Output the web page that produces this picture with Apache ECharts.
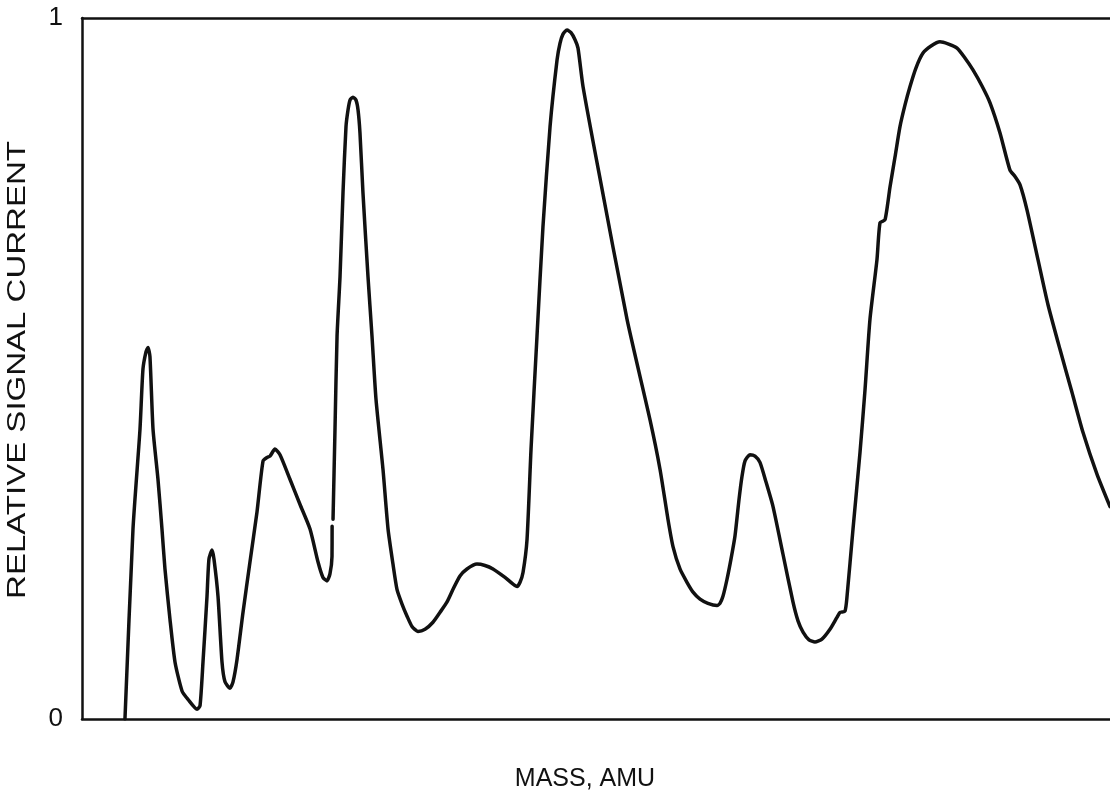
<!DOCTYPE html>
<html>
<head>
<meta charset="utf-8">
<title>Relative signal current vs mass</title>
<script src="https://cdn.jsdelivr.net/npm/echarts@6/dist/echarts.min.js"></script>
<style>
  html, body { margin: 0; padding: 0; background: #fff; }
  #chart { width: 1110px; height: 795px; }
</style>
</head>
<body>
<div id="chart"></div>
<script>
// Mass scan (arbitrary mass units across the sweep) and relative signal current.
// A null entry marks the short break in the trace.
const massValues = [
  4.18, 4.96, 5.64, 5.93, 6.23, 6.42, 6.61, 6.91, 7.39, 7.78, 8.07, 8.56, 9.05, 9.73, 10.31, 11.19,
  11.48, 11.77, 12.16, 12.35, 12.65, 12.84, 13.23, 13.62, 13.91, 14.40, 14.69, 15.08, 15.66, 16.34,
  17.02, 17.61, 18.00, 18.29, 18.77, 19.26, 20.23, 21.21, 22.18, 22.96, 23.44, 23.83, 24.12, 24.32,
  24.33, 24.37, 24.42, 24.61, 24.81, 25.10, 25.39, 25.68, 25.88, 26.07, 26.36, 26.65, 26.85, 27.04,
  27.33, 27.82, 28.21, 28.60, 29.28, 29.77, 30.25, 30.64, 31.13, 31.61, 32.10, 32.68, 33.37, 34.14,
  34.82, 35.51, 36.09, 36.77, 37.45, 38.42, 39.20, 39.98, 41.15, 42.32, 42.61, 42.90, 43.29, 43.68,
  44.26, 44.84, 45.53, 46.21, 46.50, 46.79, 47.18, 47.57, 47.96, 48.25, 48.74, 50.29, 53.02, 55.25,
  56.23, 57.00, 57.49, 58.17, 58.85, 59.44, 60.12, 60.89, 61.77, 62.06, 62.35, 62.74, 63.13, 63.52,
  63.91, 64.20, 64.49, 64.98, 65.47, 65.95, 66.54, 67.22, 68.19, 69.16, 69.65, 70.14, 70.72, 71.30,
  71.98, 72.76, 73.44, 73.74, 74.22, 74.42, 75.00, 75.68, 76.17, 76.65, 77.33, 77.63, 78.11, 78.60,
  79.09, 79.57, 80.06, 80.54, 81.13, 81.81, 82.59, 83.46, 84.24, 85.12, 85.89, 86.67, 87.55, 88.33,
  89.30, 90.27, 90.76, 91.25, 91.93, 93.00, 93.97, 95.14, 96.30, 97.37, 98.74, 100.00
];
const signalValues = [
  0.000, 0.271, 0.413, 0.499, 0.524, 0.530, 0.517, 0.413, 0.342, 0.271, 0.214, 0.142, 0.081, 0.040, 0.028, 0.014,
  0.019, 0.081, 0.175, 0.228, 0.241, 0.228, 0.175, 0.081, 0.053, 0.044, 0.053, 0.085, 0.152, 0.224,
  0.295, 0.368, 0.373, 0.375, 0.385, 0.377, 0.342, 0.306, 0.271, 0.224, 0.202, 0.197, 0.207, 0.232,
  0.275, null, 0.285, 0.413, 0.546, 0.631, 0.751, 0.845, 0.869, 0.883, 0.887, 0.883, 0.869, 0.836,
  0.751, 0.631, 0.546, 0.456, 0.356, 0.271, 0.221, 0.185, 0.164, 0.147, 0.132, 0.125, 0.128, 0.138,
  0.152, 0.167, 0.185, 0.204, 0.214, 0.221, 0.219, 0.214, 0.202, 0.189, 0.195, 0.209, 0.256, 0.385,
  0.546, 0.702, 0.845, 0.940, 0.964, 0.977, 0.983, 0.979, 0.969, 0.957, 0.902, 0.779, 0.570, 0.427,
  0.356, 0.285, 0.246, 0.214, 0.195, 0.181, 0.171, 0.165, 0.162, 0.165, 0.175, 0.199, 0.228, 0.261,
  0.313, 0.346, 0.368, 0.377, 0.375, 0.366, 0.338, 0.303, 0.235, 0.167, 0.140, 0.124, 0.113, 0.110,
  0.114, 0.128, 0.145, 0.152, 0.154, 0.175, 0.271, 0.380, 0.470, 0.570, 0.655, 0.708, 0.712, 0.759,
  0.802, 0.845, 0.876, 0.902, 0.929, 0.950, 0.960, 0.966, 0.963, 0.957, 0.943, 0.926, 0.903, 0.879,
  0.836, 0.783, 0.774, 0.762, 0.726, 0.655, 0.591, 0.527, 0.466, 0.409, 0.349, 0.303
];
const yTickLabels = ['0', '1'];
const xTitle = 'MASS, AMU';
const yTitle = 'RELATIVE SIGNAL CURRENT';

const FONT = '"Liberation Sans", Arial, Helvetica, sans-serif';
const INK = '#111';

const traceData = massValues.map((m, i) =>
  [m, signalValues[i] === null ? '-' : signalValues[i]]);

const chart = echarts.init(document.getElementById('chart'), null, { renderer: 'canvas' });

const frameLine = () => ({ show: true, onZero: false, lineStyle: { color: INK, width: 2.5 } });

chart.setOption({
  animation: false,
  backgroundColor: '#fff',
  grid: { left: 82, right: 0, top: 18, bottom: 76, containLabel: false, outerBoundsMode: 'none' },
  xAxis: [
    {
      type: 'value', min: 0, max: 100, position: 'bottom',
      axisLine: frameLine(),
      axisTick: { show: false }, axisLabel: { show: false }, splitLine: { show: false },
      name: xTitle, nameLocation: 'middle', nameGap: 48,
      nameTextStyle: { fontFamily: FONT, fontSize: 25, color: INK, padding: [0, 22, 0, 0] }
    },
    {
      type: 'value', min: 0, max: 100, position: 'top',
      axisLine: frameLine(),
      axisTick: { show: false }, axisLabel: { show: false }, splitLine: { show: false }
    }
  ],
  yAxis: {
    type: 'value', min: 0, max: 1, interval: 1,
    axisLine: frameLine(),
    axisTick: { show: false }, splitLine: { show: false },
    axisLabel: {
      margin: 19, fontFamily: FONT, fontSize: 26, color: INK,
      formatter: v => yTickLabels[Math.round(v)]
    }
  },
  // Vertical title, set in widely tracked lettering along its length
  graphic: [{
    type: 'text',
    x: 18, y: 370,
    rotation: Math.PI / 2,
    scaleX: 1.32,
    style: {
      text: yTitle,
      font: '25px ' + FONT,
      fill: INK,
      align: 'center',
      verticalAlign: 'middle'
    }
  }],
  series: [{
    type: 'line',
    xAxisIndex: 0,
    data: traceData,
    showSymbol: false,
    connectNulls: false,
    smooth: 0.2,
    lineStyle: { color: INK, width: 3.5, cap: 'round', join: 'round' }
  }]
});
</script>
</body>
</html>
